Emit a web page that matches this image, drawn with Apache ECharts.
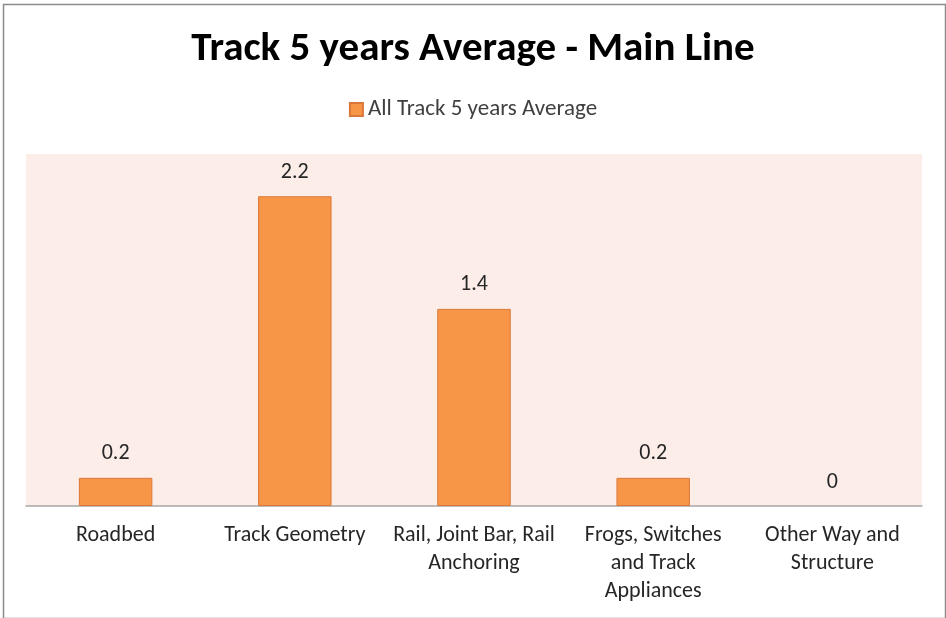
<!DOCTYPE html>
<html><head><meta charset="utf-8">
<script src="https://cdn.jsdelivr.net/npm/echarts@6/dist/echarts.min.js"></script>
<style>html,body{margin:0;padding:0;background:#fff}#c{width:946px;height:618px}</style>
</head><body><div id="c"></div>
<script>
const categories = ["Roadbed", "Track Geometry", "Rail, Joint Bar, Rail\nAnchoring", "Frogs, Switches\nand Track\nAppliances", "Other Way and\nStructure"];
const values = [0.2, 2.2, 1.4, 0.2, 0];
const seriesName = "All Track 5 years Average";
const titleText = "Track 5 years Average - Main Line";

const chart = echarts.init(document.getElementById('c'), null, {renderer: 'canvas'});
const font = "Calibri, Carlito, Lato, sans-serif";
chart.setOption({
  animation: false,
  backgroundColor: '#ffffff',
  graphic: [{
    type: 'rect', left: 1, top: 2, shape: {width: 942, height: 614},
    style: {fill: 'none', stroke: '#8c8c8c', lineWidth: 1.5}, silent: true
  }],
  title: {
    text: titleText, left: 'center', top: 24,
    textStyle: {fontFamily: font, fontWeight: 'bold', fontSize: 41, color: '#000000'}
  },
  legend: {
    data: [seriesName], top: 93, left: 'center',
    itemWidth: 13, itemHeight: 13, itemGap: 6,
    icon: 'rect',
    textStyle: {fontFamily: font, fontSize: 23, color: '#404040'}
  },
  grid: {left: 26, right: 24, top: 154, bottom: 112, backgroundColor: '#FCEDE9', show: true, borderWidth: 0},
  xAxis: {
    type: 'category', data: categories,
    axisLine: {lineStyle: {color: '#a6a6a6', width: 1.5}},
    axisTick: {show: false},
    axisLabel: {interval: 0, margin: 15, fontFamily: font, fontSize: 22, color: '#262626', lineHeight: 28}
  },
  yAxis: {type: 'value', min: 0, max: 2.5, show: false, splitLine: {show: false}},
  series: [{
    name: seriesName, type: 'bar',
    data: values.map(v => v === 0 ? {value: v, itemStyle: {borderWidth: 0}} : v),
    barWidth: '41%',
    itemStyle: {color: '#F79646', borderColor: '#D9783A', borderWidth: 1},
    label: {show: true, position: 'top', distance: 13, fontFamily: font, fontSize: 22, color: '#262626'}
  }]
});
</script></body></html>
